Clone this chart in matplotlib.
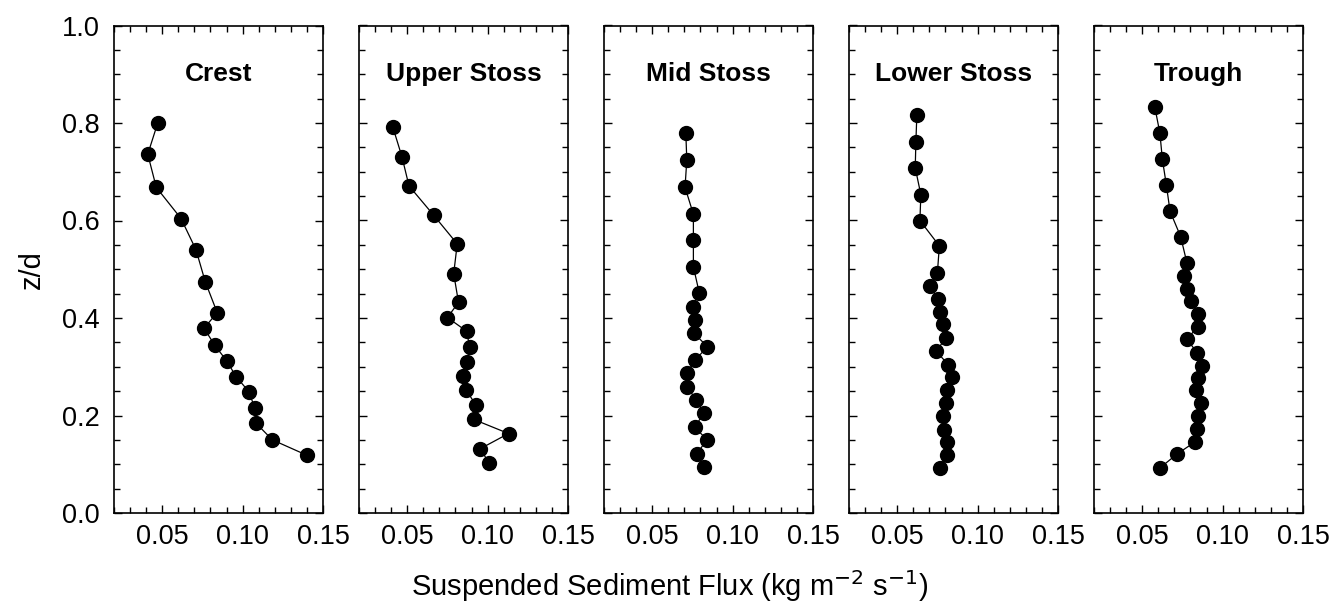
import matplotlib
matplotlib.use('Agg')
import matplotlib.pyplot as plt
from matplotlib.ticker import MultipleLocator

plt.rcParams['font.family'] = ['Liberation Sans', 'DejaVu Sans']

titles = ['Crest', 'Upper Stoss', 'Mid Stoss', 'Lower Stoss', 'Trough']

crest_x = [0.0471, 0.0410, 0.0463, 0.0617, 0.0710, 0.0768, 0.0842, 0.0760, 0.0827,
           0.0901, 0.0959, 0.1041, 0.1074, 0.1084, 0.1185, 0.1403]
crest_z = [0.799, 0.736, 0.668, 0.604, 0.540, 0.474, 0.411, 0.379, 0.344,
           0.312, 0.280, 0.248, 0.216, 0.184, 0.150, 0.118]

upper_x = [0.0410, 0.0467, 0.0511, 0.0664, 0.0811, 0.0789, 0.0819, 0.0750, 0.0869,
           0.0888, 0.0871, 0.0844, 0.0867, 0.0926, 0.0913, 0.1130, 0.0955, 0.1009]
upper_z = [0.792, 0.731, 0.671, 0.611, 0.552, 0.491, 0.432, 0.401, 0.373,
           0.341, 0.310, 0.281, 0.252, 0.222, 0.192, 0.163, 0.132, 0.102]

mid_x = [0.0709, 0.0715, 0.0704, 0.0756, 0.0756, 0.0756, 0.0793, 0.0752, 0.0768, 0.0760,
         0.0843, 0.0765, 0.0715, 0.0717, 0.0773, 0.0820, 0.0765, 0.0841, 0.0777, 0.0820]
mid_z = [0.779, 0.724, 0.668, 0.613, 0.560, 0.505, 0.451, 0.423, 0.396, 0.369,
         0.341, 0.313, 0.287, 0.259, 0.232, 0.205, 0.176, 0.150, 0.122, 0.094]

lower_x = [0.0622, 0.0616, 0.0612, 0.0647, 0.0641, 0.0762, 0.0750, 0.0702, 0.0754, 0.0765, 0.0783,
           0.0805, 0.0742, 0.0818, 0.0839, 0.0808, 0.0802, 0.0787, 0.0789, 0.0808, 0.0808, 0.0765]
lower_z = [0.816, 0.761, 0.708, 0.653, 0.600, 0.548, 0.493, 0.466, 0.438, 0.413, 0.387,
           0.360, 0.332, 0.304, 0.278, 0.252, 0.226, 0.200, 0.171, 0.146, 0.120, 0.093]

trough_x = [0.0578, 0.0610, 0.0625, 0.0650, 0.0673, 0.0739, 0.0778, 0.0759, 0.0778, 0.0806, 0.0848, 0.0844,
            0.0778, 0.0842, 0.0869, 0.0844, 0.0835, 0.0863, 0.0848, 0.0840, 0.0829, 0.0717, 0.0612]
trough_z = [0.833, 0.779, 0.726, 0.673, 0.619, 0.567, 0.513, 0.486, 0.460, 0.434, 0.408, 0.382,
            0.356, 0.329, 0.302, 0.277, 0.252, 0.225, 0.199, 0.172, 0.146, 0.121, 0.093]

xs = [crest_x, upper_x, mid_x, lower_x, trough_x]
zs = [crest_z, upper_z, mid_z, lower_z, trough_z]

fig = plt.figure(figsize=(13.39, 6.07), dpi=100)

left0 = 114 / 1339
w = 209 / 1339
step = 245 / 1339
bottom = 1 - 513 / 607
h = (513 - 25.5) / 607

for i in range(5):
    ax = fig.add_axes([left0 + i * step, bottom, w, h])
    ax.plot(xs[i], zs[i], '-o', color='black', lw=0.9, ms=10)
    ax.set_xlim(0.02, 0.15)
    ax.set_ylim(0.0, 1.0)
    ax.xaxis.set_major_locator(MultipleLocator(0.05))
    ax.xaxis.set_minor_locator(MultipleLocator(0.01))
    ax.yaxis.set_major_locator(MultipleLocator(0.2))
    ax.yaxis.set_minor_locator(MultipleLocator(0.05))
    ax.tick_params(which='both', direction='in', top=True, right=True, labelsize=19.5)
    ax.tick_params(which='major', length=6, width=1)
    ax.tick_params(which='minor', length=4, width=1)
    ax.tick_params(axis='x', pad=8)
    ax.set_xticks([0.05, 0.10, 0.15])
    ax.set_xticklabels(['0.05', '0.10', '0.15'])
    if i == 0:
        ax.set_yticks([0.0, 0.2, 0.4, 0.6, 0.8, 1.0])
        ax.set_yticklabels(['0.0', '0.2', '0.4', '0.6', '0.8', '1.0'])
        ax.tick_params(axis='y', pad=10)
        ax.set_ylabel('z/d', fontsize=21, labelpad=12)
    else:
        ax.set_yticklabels([])
    for s in ax.spines.values():
        s.set_linewidth(1.2)
    ax.text(0.5, 0.9, titles[i], transform=ax.transAxes, ha='center', va='center',
            fontsize=19, fontweight='bold')

fig.text(0.5, 0.035, 'Suspended Sediment Flux (kg m$^{-2}$ s$^{-1}$)', ha='center', va='center',
         fontsize=21)

fig.savefig('out.png', dpi=100)
